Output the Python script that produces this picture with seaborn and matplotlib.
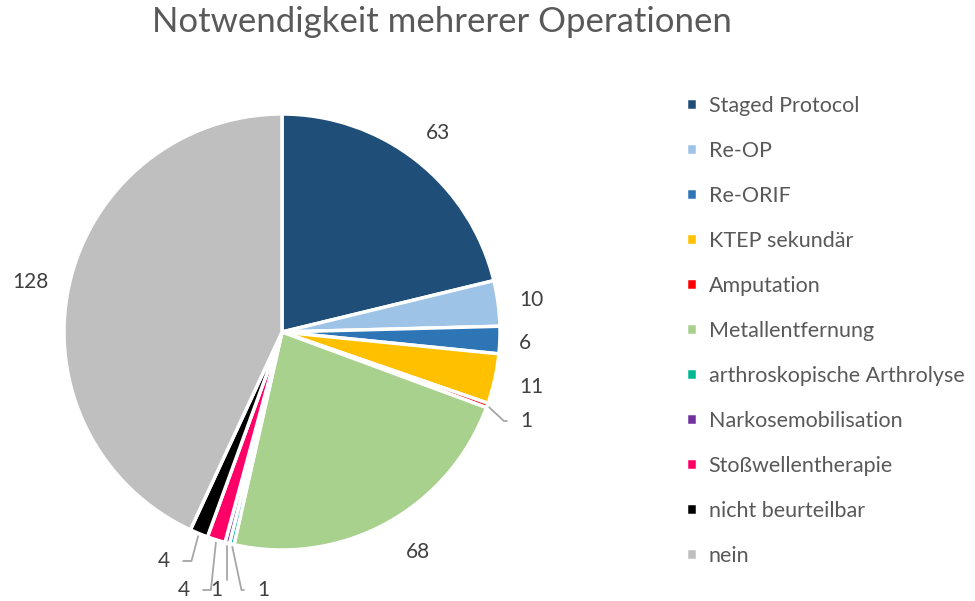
import matplotlib
matplotlib.use("Agg")
import matplotlib.pyplot as plt
import numpy as np
import seaborn as sns

# Data
categories = ["Staged Protocol", "Re-OP", "Re-ORIF", "KTEP sekundär", "Amputation",
              "Metallentfernung", "arthroskopische Arthrolyse", "Narkosemobilisation",
              "Stoßwellentherapie", "nicht beurteilbar", "nein"]
counts = [63, 10, 6, 11, 1, 68, 1, 1, 4, 4, 128]
colors = ["#1F4E79", "#9DC3E6", "#2E75B6", "#FFC000", "#FF0000", "#A9D18E",
          "#00B894", "#7030A0", "#FF0066", "#000000", "#BFBFBF"]

sns.set_theme(style="white")
plt.rcParams["font.family"] = ["Lato", "DejaVu Sans"]

W, H = 975, 601
fig = plt.figure(figsize=(W / 100, H / 100), dpi=100)
fig.patch.set_facecolor("white")

# Pie centre (282, 332) px, radius 218 px
cx, cy, r = 282, 332, 218
ax = fig.add_axes([(cx - r) / W, (H - cy - r) / H, 2 * r / W, 2 * r / H])

wedges, _ = ax.pie(counts, colors=colors, startangle=90, counterclock=False,
                   radius=1.0, wedgeprops=dict(edgecolor="white", linewidth=2.5))
ax.set_xlim(-1, 1)
ax.set_ylim(-1, 1)
ax.set_aspect("equal")
ax.axis("off")


def px(x, y):
    return ((x - cx) / r, (cy - y) / r)


# Value text positions (px) and leader angle at the wedge end (None = no leader)
label_pos = {
    0: (px(438, 133), None),
    1: (px(531, 300), None),
    2: (px(525, 343), None),
    3: (px(531, 387), None),
    4: (px(526, 421), 137),
    5: (px(418, 552), None),
    6: (px(263, 590), 102),
    7: (px(216, 590), 90),
    8: (px(184, 590), 84),
    9: (px(164, 561), 75),
    10: (px(30, 282), None),
}

total = sum(counts)
cum = 0
for i, v in enumerate(counts):
    mid = 90 - (cum + v / 2) / total * 360
    cum += v
    (tx, ty), ang = label_pos[i]
    ex, ey = np.cos(np.radians(mid)), np.sin(np.radians(mid))
    if ang is None:
        ax.text(tx, ty, f"{v}", ha="center", va="center", fontsize=15,
                color="#404040")
    else:
        ax.annotate(f"{v}", xy=(ex, ey), xytext=(tx, ty),
                    ha="center", va="center", fontsize=15, color="#404040",
                    annotation_clip=False,
                    arrowprops=dict(arrowstyle="-", color="#A6A6A6", lw=1.3,
                                    shrinkA=7, shrinkB=2,
                                    connectionstyle=f"angle,angleA=0,angleB={ang},rad=0"))

# Title
fig.text(442 / W, 1 - 22 / H, "Notwendigkeit mehrerer Operationen",
         ha="center", va="center", fontsize=25, color="#595959")

# Legend
leg = fig.legend(wedges, categories, loc="upper left",
                 bbox_to_anchor=(686 / W, 1 - 96 / H), frameon=False,
                 fontsize=15.5, labelspacing=1.16, handlelength=0.5,
                 handleheight=0.5, handletextpad=0.55, borderpad=0,
                 borderaxespad=0)
for t in leg.get_texts():
    t.set_color("#595959")

fig.savefig("out.png", dpi=100, facecolor="white")
